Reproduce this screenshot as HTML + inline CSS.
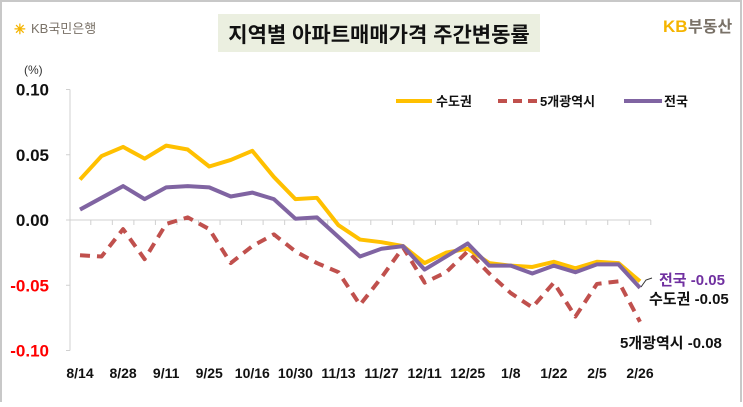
<!DOCTYPE html>
<html><head><meta charset="utf-8">
<style>
html,body{margin:0;padding:0;background:#fff;}
body{width:743px;height:402px;overflow:hidden;position:relative;font-family:"Liberation Sans","Noto Sans CJK KR",sans-serif;}
svg text{font-family:"Liberation Sans","Noto Sans CJK KR",sans-serif;}
</style></head>
<body>
<svg id="chart" width="743" height="402" xmlns="http://www.w3.org/2000/svg">
  <rect x="1" y="1" width="740" height="410" fill="none" stroke="#c8c8c8" stroke-width="2"/>
  <g>
    <text x="14" y="34" font-size="14" fill="#f5b400" font-weight="bold">✳</text>
    <text x="31" y="33" font-size="13" fill="#7a7268">KB국민은행</text>
  </g>
  <rect x="218" y="14" width="322" height="38" fill="#ebefe0"/>
  <text x="379" y="42" font-size="21" font-weight="bold" text-anchor="middle" fill="#111">지역별 아파트매매가격 주간변동률</text>
  <g>
    <text x="663" y="32" font-size="17" fill="#f5b400" font-weight="bold">KB</text>
    <text x="688" y="32" font-size="16" fill="#7a7268" font-weight="bold">부동산</text>
  </g>
  <text x="24" y="74" font-size="12" fill="#333">(%)</text>
  <g id="axes"></g>
  <g id="series"></g>
  <g>
    <line x1="396" y1="101" x2="432" y2="101" stroke="#ffc000" stroke-width="4"/>
    <text x="436" y="106" font-size="13" font-weight="bold" fill="#111">수도권</text>
    <line x1="498" y1="101" x2="538" y2="101" stroke="#c0504d" stroke-width="4" stroke-dasharray="9,6"/>
    <text x="540" y="106" font-size="13" font-weight="bold" fill="#111">5개광역시</text>
    <line x1="624" y1="101" x2="662" y2="101" stroke="#8064a2" stroke-width="4"/>
    <text x="664" y="106" font-size="13" font-weight="bold" fill="#111">전국</text>
  </g>
  <polyline points="641,287 646,280 652,278" fill="none" stroke="#333" stroke-width="1"/>
  <text x="659" y="285" font-size="15" font-weight="bold" fill="#7030a0">전국 -0.05</text>
  <text x="649" y="304" font-size="15" font-weight="bold" fill="#111">수도권 -0.05</text>
  <text x="620" y="348" font-size="15" font-weight="bold" fill="#111">5개광역시 -0.08</text>
</svg>
<script>
const categories=["8/14","8/21","8/28","9/4","9/11","9/18","9/25","10/2","10/16","10/23","10/30","11/6","11/13","11/20","11/27","12/4","12/11","12/18","12/25","1/1","1/8","1/15","1/22","1/29","2/5","2/19","2/26"];
const sudogwon=[0.031,0.049,0.056,0.047,0.057,0.054,0.041,0.046,0.053,0.033,0.016,0.017,-0.004,-0.015,-0.017,-0.020,-0.033,-0.025,-0.022,-0.033,-0.035,-0.036,-0.032,-0.037,-0.032,-0.033,-0.047];
const metro5=[-0.027,-0.028,-0.007,-0.030,-0.003,0.002,-0.007,-0.033,-0.020,-0.011,-0.024,-0.033,-0.040,-0.065,-0.044,-0.021,-0.048,-0.040,-0.024,-0.041,-0.056,-0.067,-0.048,-0.074,-0.049,-0.047,-0.078];
const national=[0.008,0.017,0.026,0.016,0.025,0.026,0.025,0.018,0.021,0.016,0.001,0.002,-0.013,-0.028,-0.022,-0.020,-0.038,-0.028,-0.018,-0.035,-0.035,-0.041,-0.035,-0.040,-0.034,-0.034,-0.052];
const yTicks=[0.10,0.05,0.00,-0.05,-0.10];
const xLabelIdx=[0,2,4,6,8,10,12,14,16,18,20,22,24,26];

const NS="http://www.w3.org/2000/svg";
const X0=80,X1=640,Y0=220,YS=1305;
const xs=i=>X0+i*(X1-X0)/(categories.length-1);
const ys=v=>Y0-v*YS;
function mk(tag,attrs,parent){const e=document.createElementNS(NS,tag);for(const k in attrs)e.setAttribute(k,attrs[k]);parent.appendChild(e);return e;}
const axes=document.getElementById('axes');
const yAxis=mk('line',{x1:70,y1:ys(0.10),x2:70,y2:ys(-0.10),stroke:'#d0d0d0','stroke-width':1},axes);


yTicks.forEach(t=>{
  const tk=mk('line',{x1:66,y1:ys(t),x2:70,y2:ys(t),stroke:'#d0d0d0'},axes);
  
  
  const tx=mk('text',{x:49,y:ys(t)+6,'font-size':17,'font-weight':'bold','text-anchor':'end',fill:t<0?'#ff0000':'#111'},axes);
  tx.textContent=t.toFixed(2);
  
  
});
const xAxis=mk('line',{x1:70,y1:ys(0),x2:651,y2:ys(0),stroke:'#d0d0d0','stroke-width':1},axes);


categories.forEach((c,i)=>{
  const tk=mk('line',{x1:xs(i)+10.8,y1:ys(0),x2:xs(i)+10.8,y2:ys(0)+5,stroke:'#d0d0d0'},axes);
  
  
});
xLabelIdx.forEach(i=>{
  const tx=mk('text',{x:xs(i),y:378,'font-size':14,'font-weight':'bold','text-anchor':'middle',fill:'#111'},axes);
  tx.textContent=categories[i];
  
  
});
const series=document.getElementById('series');
function line(data,color,dash,name){
  const p=mk('polyline',{points:data.map((v,i)=>xs(i)+','+ys(v)).join(' '),fill:'none',stroke:color,'stroke-width':4,'stroke-linejoin':'round'},series);
  if(dash)p.setAttribute('stroke-dasharray',dash);
  
  
}
line(metro5,'#c0504d','10,7','series-5metro');
line(sudogwon,'#ffc000',null,'series-sudogwon');
line(national,'#8064a2',null,'series-national');
</script>
</body></html>
